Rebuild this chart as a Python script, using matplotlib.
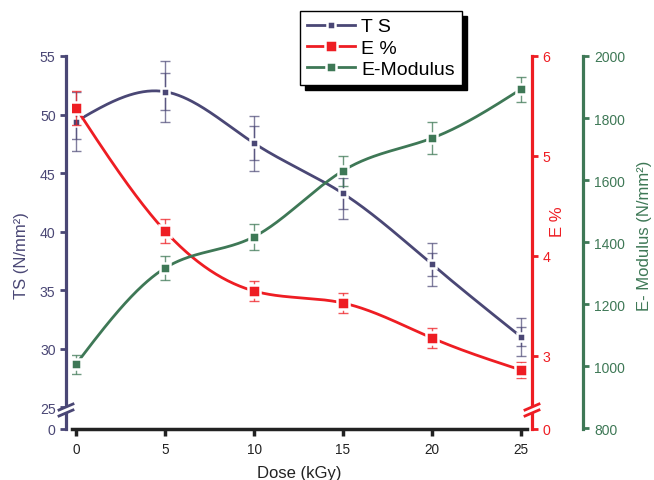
import numpy as np
import matplotlib
matplotlib.use('Agg')
import matplotlib.pyplot as plt
from matplotlib.lines import Line2D
from matplotlib.patches import Rectangle
from matplotlib.transforms import IdentityTransform

plt.rcParams['font.family'] = ['Liberation Sans', 'DejaVu Sans']

# ---------------- data ----------------
dose = [0, 5, 10, 15, 20, 25]
ts = [49.4, 51.95, 47.55, 43.25, 37.2, 31.0]
ts_err_outer = [2.5, 2.6, 2.35, 2.2, 1.85, 1.6]
ts_err_inner = [1.5, 1.6, 1.45, 1.3, 1.0, 0.8]
elong = [5.48, 4.25, 3.65, 3.53, 3.18, 2.86]
elong_err = [0.17, 0.12, 0.10, 0.10, 0.10, 0.08]
emod = [1006, 1316, 1417, 1630, 1735, 1893]
emod_err = [31, 39, 42, 48, 52, 40]

x_ticks = [0, 5, 10, 15, 20, 25]
ts_ticks = [25, 30, 35, 40, 45, 50, 55]
e_ticks = [3, 4, 5, 6]
em_ticks = [800, 1000, 1200, 1400, 1600, 1800, 2000]
legend_labels = ['T S', 'E %', 'E-Modulus']

NAVY = '#4a4775'
RED = '#ee1d23'
GREEN = '#3e7856'


def natural_spline(x, y, n=300):
    x = np.asarray(x, float)
    y = np.asarray(y, float)
    k = len(x)
    h = np.diff(x)
    A = np.zeros((k, k))
    r = np.zeros(k)
    A[0, 0] = A[-1, -1] = 1
    for i in range(1, k - 1):
        A[i, i - 1] = h[i - 1]
        A[i, i] = 2 * (h[i - 1] + h[i])
        A[i, i + 1] = h[i]
        r[i] = 3 * ((y[i + 1] - y[i]) / h[i] - (y[i] - y[i - 1]) / h[i - 1])
    c = np.linalg.solve(A, r)
    b = (y[1:] - y[:-1]) / h - h * (2 * c[:-1] + c[1:]) / 3
    d = (c[1:] - c[:-1]) / (3 * h)
    xs = np.linspace(x[0], x[-1], n)
    idx = np.clip(np.searchsorted(x, xs) - 1, 0, k - 2)
    dx = xs - x[idx]
    ys = y[idx] + b[idx] * dx + c[idx] * dx ** 2 + d[idx] * dx ** 3
    return xs, ys


W, H = 654, 481
PX = 72 / 100  # points per pixel
fig = plt.figure(figsize=(W / 100, H / 100), dpi=100)
L, R, T, B = 72, 527, 57, 430
ax = fig.add_axes([L / W, 1 - B / H, (R - L) / W, (B - T) / H])
ax2 = ax.twinx()
ax3 = ax.twinx()

# ---- TS (left axis)
xs, ys = natural_spline(dose, ts)
ax.plot(xs, ys, color=NAVY, lw=2, zorder=2)
ax.errorbar(dose, ts, yerr=ts_err_outer, fmt='none', ecolor=NAVY, alpha=0.7,
            elinewidth=1, capsize=3.5, capthick=1, zorder=3)
ax.errorbar(dose, ts, yerr=ts_err_inner, fmt='none', ecolor=NAVY, alpha=0.7,
            elinewidth=1, capsize=3.5, capthick=1, zorder=3)
ax.plot(dose, ts, ls='none', marker='s', ms=6.0, mfc=NAVY, mec='white', mew=1.8, zorder=4)

# ---- E % (red axis)
xs, ys = natural_spline(dose, elong)
ax2.plot(xs, ys, color=RED, lw=2, zorder=2)
ax2.errorbar(dose, elong, yerr=elong_err, fmt='none', ecolor=RED, alpha=0.75,
             elinewidth=1, capsize=3.5, capthick=1, zorder=3)
ax2.plot(dose, elong, ls='none', marker='s', ms=8.0, mfc=RED, mec='white', mew=1.8, zorder=4)

# ---- E-Modulus (green axis)
xs, ys = natural_spline(dose, emod)
ax3.plot(xs, ys, color=GREEN, lw=2, zorder=2)
ax3.errorbar(dose, emod, yerr=emod_err, fmt='none', ecolor=GREEN, alpha=0.75,
             elinewidth=1, capsize=3.5, capthick=1, zorder=3)
ax3.plot(dose, emod, ls='none', marker='s', ms=6.5, mfc=GREEN, mec='white', mew=1.8, zorder=4)

# ---- limits & ticks
ax.set_xlim(-0.225, 25.337)
ax.set_xticks(x_ticks)
ax.set_xticklabels([str(v) for v in x_ticks])

ts_bottom = 23.12
ax.set_ylim(ts_bottom, 55)
ax.set_yticks([ts_bottom] + ts_ticks)
ax.set_yticklabels(['0'] + [str(v) for v in ts_ticks])

e_bottom = 2.27
ax2.set_ylim(e_bottom, 6)
ax2.set_yticks([e_bottom + 0.005] + e_ticks)
ax2.set_yticklabels(['0'] + [str(v) for v in e_ticks])

ax3.set_ylim(797, 2000)
ax3.set_yticks(em_ticks)
ax3.set_yticklabels([str(v) for v in em_ticks])

# ---- spines
for s in ['top', 'right']:
    ax.spines[s].set_visible(False)
ax.spines['left'].set_position(('outward', 6 * PX))
ax.spines['left'].set_color(NAVY)
ax.spines['left'].set_linewidth(2.3)
ax.spines['bottom'].set_color('#222222')
ax.spines['bottom'].set_linewidth(2.5)

for a in (ax2, ax3):
    for s in ['top', 'left', 'bottom']:
        a.spines[s].set_visible(False)
ax2.spines['right'].set_position(('outward', 5 * PX))
ax2.spines['right'].set_color(RED)
ax2.spines['right'].set_linewidth(2.3)
ax3.spines['right'].set_position(('outward', 56 * PX))
ax3.spines['right'].set_color(GREEN)
ax3.spines['right'].set_linewidth(2.3)

ax.tick_params(axis='y', colors=NAVY, length=4.5, width=2, labelsize=10.2, pad=3)
ax.tick_params(axis='x', colors='#222222', length=5, width=2.5, labelsize=9.8, pad=4)
ax2.tick_params(axis='y', colors=RED, length=4.5, width=2, labelsize=10.2, pad=3)
ax3.tick_params(axis='y', colors=GREEN, length=4.5, width=2, labelsize=10, pad=3.5)

# ---- labels
ax.set_xlabel('Dose (kGy)', fontsize=12, color='#222222', labelpad=7)
fig.text(22 / W, 1 - 256 / H, 'TS (N/mm²)', fontsize=12, color=NAVY,
         rotation=90, ha='center', va='center')
fig.text(558 / W, 1 - 222 / H, 'E %', fontsize=12, color=RED,
         rotation=90, ha='center', va='center')
fig.text(645 / W, 1 - 236 / H, 'E- Modulus (N/mm²)', fontsize=12, color=GREEN,
         rotation=90, ha='center', va='center')

# ---- axis breaks (drawn in pixel coordinates)
def axis_break(xpix, ytop_pix, color):
    y1 = H - ytop_pix
    fig.add_artist(Rectangle((xpix - 3, y1 - 6), 6, 6, transform=IdentityTransform(),
                             facecolor='white', edgecolor='none', zorder=10))
    for yc in (y1, y1 - 6):
        fig.add_artist(Line2D([xpix - 7, xpix + 7], [yc - 3, yc + 3], color=color, lw=2,
                              transform=IdentityTransform(), zorder=11))

axis_break(66, 408, NAVY)
axis_break(532, 408, RED)

# ---- legend
handles = [
    Line2D([], [], color=NAVY, lw=2, marker='s', ms=6.0, mfc=NAVY, mec='white', mew=1.8),
    Line2D([], [], color=RED, lw=2, marker='s', ms=8.0, mfc=RED, mec='white', mew=1.8),
    Line2D([], [], color=GREEN, lw=2, marker='s', ms=6.5, mfc=GREEN, mec='white', mew=1.8),
]
leg = fig.legend(handles, legend_labels, loc='upper left',
                 bbox_to_anchor=(300 / W, 1 - 12 / H), fontsize=14,
                 frameon=True, fancybox=False, edgecolor='black', framealpha=1,
                 shadow={'ox': 3.5, 'oy': -3.5, 'color': 'black', 'alpha': 1},
                 handlelength=2.5, handletextpad=0.3, labelspacing=0.19,
                 borderpad=0.35, borderaxespad=0, numpoints=1)
leg.get_frame().set_linewidth(1.0)

fig.savefig('out.png', dpi=100)
